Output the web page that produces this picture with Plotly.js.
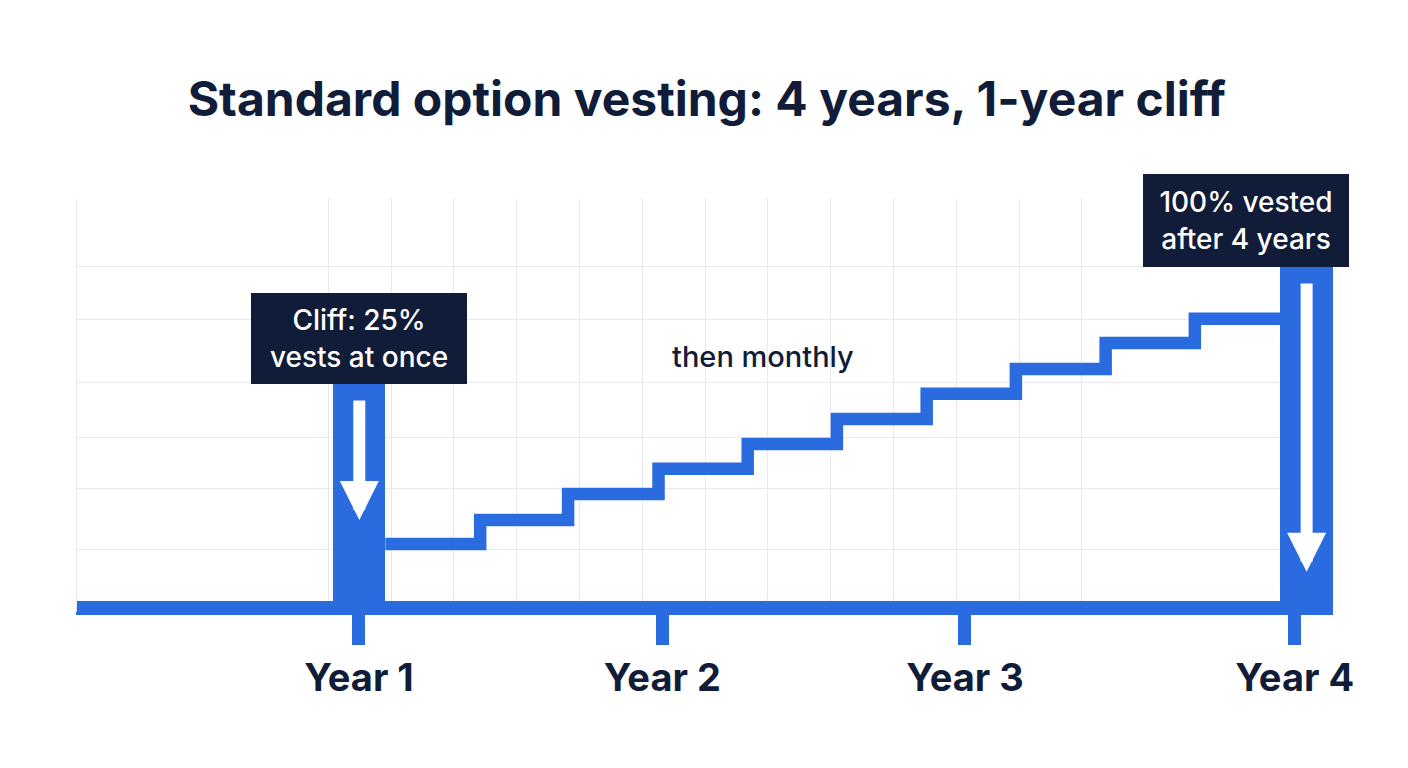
<!DOCTYPE html>
<html>
<head>
<meta charset="utf-8">
<script src="https://cdn.plot.ly/plotly-3.0.1.min.js"></script>
<style>
  html, body { margin: 0; padding: 0; background: #ffffff; }
  #chart { width: 1408px; height: 768px; }
</style>
</head>
<body>
<div id="chart"></div>
<script>
// ---- data (x in grid-column units, y in % of grant) ----
const titleText = 'Standard option vesting: 4 years, 1-year cliff';

const yearLabels = ['Year 1', 'Year 2', 'Year 3', 'Year 4'];
const yearTickX  = [4.49, 9.32, 14.14, 19.39];

// baseline (0% vested) across the whole timeline
const baselineX = [0, 20];
const baselineY = [0, 0];

// lump vesting events drawn as bars (cliff, final vest)
const eventX      = [4.495, 19.58];
const eventTop    = [65.7, 100];
const eventWidth  = [0.83, 0.86];

// monthly steps after the cliff
const stepX = [4.91, 6.42, 7.82, 9.26, 10.68, 12.10, 13.53, 14.95, 16.38, 17.80, 19.16];
const stepY = [18.8, 25.8, 33.4, 40.8, 48.1, 55.4, 62.8, 70.1, 77.7, 84.8, 84.8];

// grid positions
const xGridVals = [4, 5, 6, 7, 8, 9, 10, 11, 12, 13, 14, 15, 16];
const yGridVals = [17.3, 34.9, 50.1, 66.0, 84.5, 100];

// arrows inside the event bars: [x, tipY, tailY]
const arrowX    = [4.495, 19.58];
const arrowTipY = [25.8, 10.6];
const arrowTailY= [61.3, 95.6];

// callouts
const calloutText = ['Cliff: 25%<br>vests at once', '100% vested<br>after 4 years'];
const calloutX    = [4.49, 18.61];
const calloutY    = [65.7, 100];
const calloutW    = [216, 206];
const calloutH    = [91, 93];

const noteText = 'then monthly';
const noteX = 10.92;
const noteY = 73.6;

// ---- styling ----
const BLUE = '#2b6be0';
const NAVY = '#111c38';
const GRID = '#e7e9ed';
const FONT = 'Inter, "Noto Sans", "DejaVu Sans", sans-serif';

const traces = [
  {
    type: 'scatter', mode: 'lines',
    x: baselineX, y: baselineY,
    line: { color: BLUE, width: 14 },
    hoverinfo: 'skip', showlegend: false
  },
  {
    type: 'scatter', mode: 'lines',
    x: stepX, y: stepY,
    line: { color: BLUE, width: 12.5, shape: 'hv' },
    hoverinfo: 'skip', showlegend: false
  },
  {
    type: 'bar',
    x: eventX, y: eventTop, width: eventWidth, base: 0,
    marker: { color: BLUE, line: { width: 0 } },
    hoverinfo: 'skip', showlegend: false
  }
];

const annotations = [];
arrowX.forEach((ax, i) => {
  annotations.push({
    x: ax, y: arrowTipY[i], xref: 'x', yref: 'y',
    ax: ax, ay: arrowTailY[i], axref: 'x', ayref: 'y',
    showarrow: true, arrowhead: 2, arrowsize: 0.65, arrowwidth: 12,
    arrowcolor: '#ffffff', text: ''
  });
});
calloutText.forEach((t, i) => {
  annotations.push({
    x: calloutX[i], y: calloutY[i], xref: 'x', yref: 'y',
    xanchor: 'center', yanchor: 'bottom',
    text: t, showarrow: false,
    width: calloutW[i], height: calloutH[i],
    bgcolor: NAVY, borderpad: 0, borderwidth: 0,
    align: 'center', valign: 'middle',
    font: { family: FONT, size: 28, color: '#ffffff', weight: 500 }
  });
});
annotations.push({
  x: noteX, y: noteY, xref: 'x', yref: 'y',
  xanchor: 'center', yanchor: 'middle',
  text: noteText, showarrow: false,
  font: { family: FONT, size: 29, color: NAVY, weight: 500 }
});

const layout = {
  width: 1408, height: 768,
  paper_bgcolor: '#ffffff', plot_bgcolor: '#ffffff',
  margin: { l: 77, r: 75, t: 198, b: 156, pad: 0 },
  title: {
    text: titleText,
    xref: 'container', yref: 'container',
    x: 0.502, y: 1 - 99 / 768, xanchor: 'center', yanchor: 'middle',
    font: { family: FONT, size: 48, color: NAVY, weight: 700 }
  },
  xaxis: {
    range: [0, 20],
    tickmode: 'array', tickvals: yearTickX, ticktext: yearLabels,
    showgrid: false, zeroline: false,
    showline: true, linecolor: BLUE, linewidth: 3,
    ticks: 'outside', ticklen: 30, tickwidth: 13, tickcolor: BLUE,
    ticklabelstandoff: 0,
    tickfont: { family: FONT, size: 38, color: NAVY, weight: 700 },
    minor: { tickmode: 'array', tickvals: xGridVals, showgrid: true, gridcolor: GRID, gridwidth: 1, ticks: '' },
    fixedrange: true
  },
  yaxis: {
    range: [-1.17, 120.2],
    tickmode: 'array', tickvals: yGridVals,
    showticklabels: false, showgrid: true, gridcolor: GRID, gridwidth: 1,
    zeroline: false, showline: true, linecolor: GRID, linewidth: 1.5, ticks: '',
    fixedrange: true
  },
  bargap: 0,
  annotations: annotations,
  showlegend: false
};

Plotly.newPlot('chart', traces, layout, { displayModeBar: false, staticPlot: true });
</script>
</body>
</html>
